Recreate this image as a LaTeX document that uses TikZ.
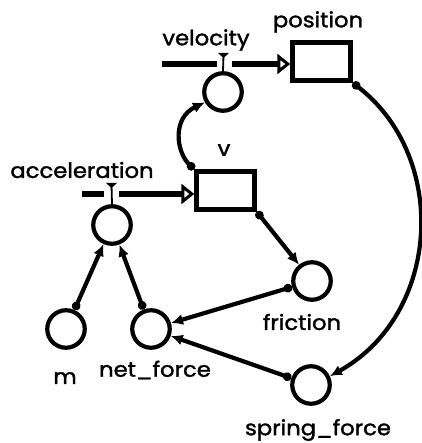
\documentclass[tikz,border=0pt]{standalone}
\usepackage{fontspec}
\newfontfamily\lblfont[FakeBold=1.6,FakeStretch=1.08]{Poppins}
\usetikzlibrary{arrows.meta}

\begin{document}
\begin{tikzpicture}[x=1pt,y=-1pt,line width=4.2pt,
  >={Latex[length=12pt,width=11pt]},
  aux/.style={circle,draw,minimum size=37.5pt,inner sep=0pt},
  stock/.style={draw,line width=4.5pt,minimum width=58pt,minimum height=38pt,inner sep=0pt},
  lbl/.style={font=\lblfont\fontsize{21}{24}\selectfont,inner sep=0pt},
  link/.style={{Circle[length=8.5pt]}-{Latex[length=12pt,width=11pt]}},
  pipe/.style={line width=6.5pt},
  flowtip/.style={-{Triangle[open,length=13pt,width=20pt,line width=3pt]}}]
  \useasboundingbox (0,0) rectangle (421,443);
  % stocks
  \node[stock] (pos) at (321.5,61.5) {};
  \node[stock] (v) at (225.5,190.5) {};
  % flow valves and converters
  \node[aux] (velo) at (223,92) {};
  \node[aux] (acc) at (112,225) {};
  \node[aux] (fric) at (312,281) {};
  \node[aux] (m) at (66,329) {};
  \node[aux] (net) at (151,329) {};
  \node[aux] (spr) at (311,385) {};
  % labels
  \node[lbl] (lpos) at (318,22) {position};
  \node[lbl] (lvelo) at (206,40) {velocity};
  \node[lbl] (lv) at (224,150) {v};
  \node[lbl] (lacc) at (82,170) {acceleration};
  \node[lbl] (lfric) at (302,322) {friction};
  \node[lbl] (lm) at (65,378) {m};
  \node[lbl] (lnet) at (155,370) {net\_force};
  \node[lbl] (lspr) at (318,430) {spring\_force};
  % pipes
  \coordinate (vin) at (162,64);
  \coordinate (vgapl) at (217,64);
  \coordinate (vgapr) at (232,64);
  \draw[pipe] (vin) -- (vgapl);
  \draw[pipe,flowtip] (vgapr) -- (vgapr -| pos.west);
  \fill (218,53) -- (229,53) -- (223.5,58) -- cycle;
  \draw[line width=1.8pt] (223.5,55) -- (velo.north);
  \coordinate (ain) at (82,194);
  \coordinate (agapl) at (104,194);
  \coordinate (agapr) at (119,194);
  \draw[pipe] (ain) -- (agapl);
  \draw[pipe,flowtip] (agapr) -- (agapr -| v.west);
  \fill (106,183) -- (117,183) -- (111.5,188) -- cycle;
  \draw[line width=1.8pt] (111.5,185) -- (acc.north);
  % links
  \draw[link] (v.north west) .. controls (176,152) and (172,118) .. (velo.210);
  \draw[link] (pos.south east) .. controls (450,158) and (440,315) .. (spr.25);
  \draw[link] (v.south east) -- (fric);
  \draw[link] (fric) -- (net);
  \draw[link] (spr) -- (net);
  \draw[link] (m) -- (acc);
  \draw[link] (net) -- (acc);
\end{tikzpicture}
\end{document}
